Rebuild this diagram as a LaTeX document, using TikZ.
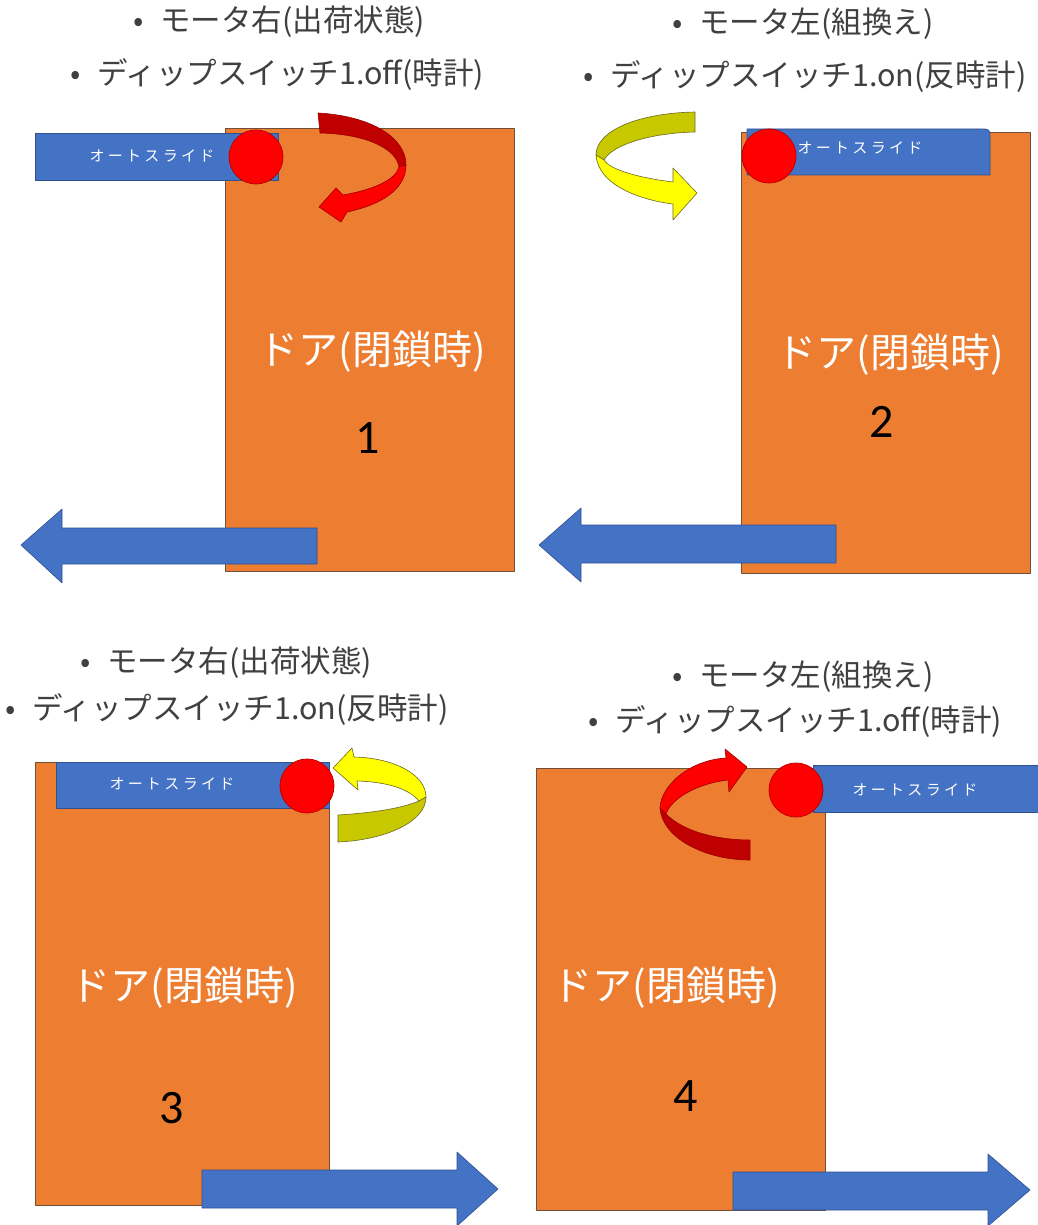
\documentclass[tikz,border=0pt]{standalone}
\usepackage{fontspec}
\setmainfont{Noto Sans CJK JP}
\newfontfamily\slidefont[LetterSpace=22]{Noto Sans CJK JP}
\newfontfamily\numfont{Carlito}
\definecolor{doororange}{RGB}{237,125,49}
\definecolor{doorline}{RGB}{110,80,60}
\definecolor{slideblue}{RGB}{68,114,196}
\definecolor{slideline}{RGB}{47,82,143}
\definecolor{motorred}{RGB}{255,0,0}
\definecolor{backred}{RGB}{192,0,0}
\definecolor{frontyellow}{RGB}{255,255,0}
\definecolor{backolive}{RGB}{200,200,0}
\definecolor{textgray}{RGB}{64,64,64}
\begin{document}
\begin{tikzpicture}[x=1pt,y=-1pt,line join=round,
	door/.style={fill=doororange,draw=doorline,line width=0.8pt},
	slide/.style={fill=slideblue,draw=slideline,line width=0.8pt},
	motor/.style={fill=motorred,draw=backred,line width=0.8pt},
	movearrow/.style={fill=slideblue,draw=slideline,line width=0.6pt},
	redfront/.style={fill=motorred,draw=backred!80!black,line width=0.6pt},
	redback/.style={fill=backred,draw=backred!80!black,line width=0.6pt},
	yellowfront/.style={fill=frontyellow,draw=olive!70!black,line width=0.6pt},
	yellowback/.style={fill=backolive,draw=olive!70!black,line width=0.6pt},
	bulletline/.style={anchor=west,inner sep=0pt,text=textgray,font=\fontsize{30.5}{34}\selectfont},
	doorlabel/.style={text=white,inner sep=0pt,font=\fontsize{40}{44}\selectfont},
	slidelabel/.style={text=white,inner sep=0pt,font=\slidefont\fontsize{15}{17}\selectfont},
	number/.style={inner sep=0pt,font=\numfont\fontsize{48}{52}\selectfont}]
\fill[white] (0,0) rectangle (1037,1225);
\useasboundingbox (0,0) rectangle (1037,1225);

% panel 1
\node[bulletline] (m1) at (133,22) {•\hspace{0.55em}モータ右(出荷状態)};
\node[bulletline] (s1) at (70,74) {•\hspace{0.55em}ディップスイッチ1.off(時計)};
\draw[door] (225,128) rectangle (514,571);
\draw[slide] (35,133) rectangle (278,180);
\node[slidelabel] (a1) at (152,156) {オートスライド};
\draw[motor] (256,157) circle (27);
\draw[redback] (318,113) .. controls (372,116) and (406,138) .. (406,165)
	-- (399,167) .. controls (396,148) and (365,134) .. (320,133) -- cycle;
\draw[redfront] (406,165) .. controls (406,190) and (380,205) .. (347,212)
	-- (341,222) -- (319,207) -- (336,188) -- (343,195)
	.. controls (372,190) and (396,180) .. (399,167) -- cycle;
\node[doorlabel] (d1) at (372,352) {ドア(閉鎖時)};
\node[number] (n1) at (368,438) {1};
\draw[movearrow] (21,545) -- (62,509) -- (62,528) -- (317,528) -- (317,564) -- (62,564) -- (62,583) -- cycle;

% panel 2
\node[bulletline] (m2) at (672,24) {•\hspace{0.55em}モータ左(組換え)};
\node[bulletline] (s2) at (583,76) {•\hspace{0.55em}ディップスイッチ1.on(反時計)};
\draw[door] (741,132) rectangle (1030,573);
\draw[slide] (747,175) -- (747,129) -- (980,129) .. controls (990,129) .. (990,139) -- (990,175) -- cycle;
\node[slidelabel] (a2) at (860,148) {オートスライド};
\draw[motor] (769,156) circle (27);
\draw[yellowback] (695,112) .. controls (640,113) and (596,130) .. (596,155)
	-- (604,160) .. controls (612,145) and (650,133) .. (695,132) -- cycle;
\draw[yellowfront] (596,155) .. controls (598,185) and (640,200) .. (673,204)
	-- (673,220) -- (697,193) -- (673,168) -- (673,182)
	.. controls (640,178) and (610,170) .. (604,160) -- cycle;
\node[doorlabel] (d2) at (890,355) {ドア(閉鎖時)};
\node[number] (n2) at (882,422) {2};
\draw[movearrow] (539,545) -- (581,508) -- (581,525) -- (836,525) -- (836,563) -- (581,563) -- (581,582) -- cycle;

% panel 3
\node[bulletline] (m3) at (80,663) {•\hspace{0.55em}モータ右(出荷状態)};
\node[bulletline] (s3) at (5,709) {•\hspace{0.55em}ディップスイッチ1.on(反時計)};
\draw[door] (35,762) rectangle (329,1205);
\draw[slide] (56,762) rectangle (329,808);
\node[slidelabel] (a3) at (172,784) {オートスライド};
\draw[motor] (307,786) circle (27);
\draw[yellowfront] (333,768) -- (352,748) -- (354,757) .. controls (395,758) and (426,775) .. (426,797)
	-- (419,801) .. controls (410,790) and (390,782) .. (357,781) -- (358,790) -- cycle;
\draw[yellowback] (419,801) .. controls (400,809) and (370,813) .. (338,815)
	-- (338,842) .. controls (385,840) and (426,822) .. (426,797) -- cycle;
\node[doorlabel] (d3) at (184,988) {ドア(閉鎖時)};
\node[number] (n3) at (172,1108) {3};
\draw[movearrow] (498,1189) -- (457,1152) -- (457,1170) -- (202,1170) -- (202,1208) -- (457,1208) -- (457,1226) -- cycle;

% panel 4
\node[bulletline] (m4) at (672,677) {•\hspace{0.55em}モータ左(組換え)};
\node[bulletline] (s4) at (588,721) {•\hspace{0.55em}ディップスイッチ1.off(時計)};
\draw[door] (536,768) rectangle (825,1210);
\draw[slide] (813,765) rectangle (1045,812);
\node[slidelabel] (a4) at (915,790) {オートスライド};
\draw[motor] (796,790) circle (27);
\draw[redback] (666,814) .. controls (685,833) and (720,840) .. (750,840)
	-- (750,860) .. controls (705,860) and (662,838) .. (660,808) -- cycle;
\draw[redfront] (747,767) -- (725,749) -- (726,758) .. controls (690,760) and (661,785) .. (660,808)
	-- (666,814) .. controls (672,797) and (700,783) .. (728,780) -- (729,792) -- cycle;
\node[doorlabel] (d4) at (666,988) {ドア(閉鎖時)};
\node[number] (n4) at (686,1096) {4};
\draw[movearrow] (1030,1190) -- (988,1154) -- (988,1172) -- (733,1172) -- (733,1210) -- (988,1210) -- (988,1226) -- cycle;
\end{tikzpicture}
\end{document}
